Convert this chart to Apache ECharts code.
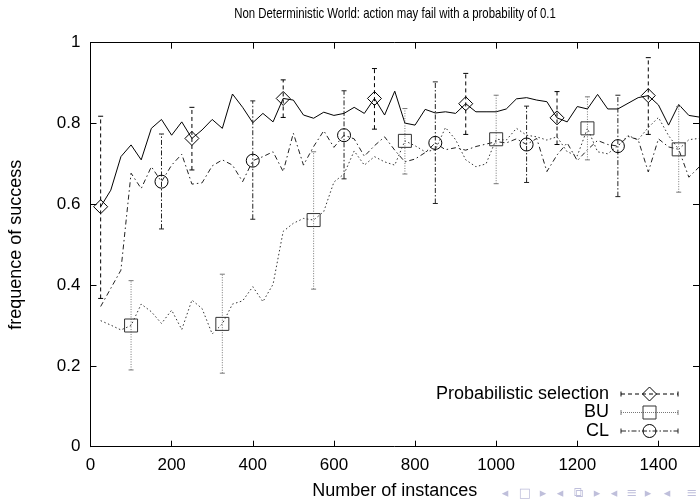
<!DOCTYPE html>
<html><head><meta charset="utf-8">
<script src="https://cdn.jsdelivr.net/npm/echarts@6/dist/echarts.min.js"></script>
<style>html,body{margin:0;padding:0;background:#fff}#c{width:700px;height:501px}</style>
</head><body><div id="c"></div>
<script>
const chartTitle = 'Non Deterministic World: action may fail with a probability of 0.1';
const xName = 'Number of instances';
const yName = 'frequence of success';
const seriesNames = ['Probabilistic selection', 'BU', 'CL'];
const xTicks = [0, 200, 400, 600, 800, 1000, 1200, 1400];
const yTicks = [0, 0.2, 0.4, 0.6, 0.8, 1];

const instances = [25,50,75,100,125,150,175,200,225,250,275,300,325,350,375,400,425,450,475,500,
  525,550,575,600,625,650,675,700,725,750,775,800,825,850,875,900,925,950,975,1000,
  1025,1050,1075,1100,1125,1150,1175,1200,1225,1250,1275,1300,1325,1350,1375,1400,1425,1450,1475,1500];

const probValues = [0.594,0.635,0.718,0.747,0.710,0.788,0.810,0.771,0.804,0.763,
  0.784,0.810,0.788,0.873,0.840,0.802,0.825,0.804,0.862,0.858,
  0.821,0.813,0.828,0.820,0.825,0.840,0.825,0.862,0.821,0.880,
  0.801,0.796,0.835,0.826,0.829,0.825,0.849,0.829,0.829,0.829,
  0.836,0.861,0.864,0.858,0.854,0.814,0.804,0.842,0.836,0.872,
  0.836,0.836,0.850,0.864,0.869,0.846,0.796,0.847,0.820,0.816];

const buValues = [0.312,0.301,0.289,0.300,0.353,0.334,0.305,0.338,0.290,0.363,
  0.342,0.279,0.304,0.353,0.361,0.396,0.359,0.402,0.533,0.553,
  0.565,0.561,0.582,0.655,0.675,0.732,0.697,0.718,0.705,0.697,
  0.757,0.745,0.730,0.735,0.790,0.760,0.710,0.693,0.700,0.761,
  0.759,0.788,0.771,0.767,0.759,0.767,0.730,0.720,0.788,0.730,
  0.725,0.745,0.770,0.760,0.790,0.815,0.770,0.736,0.760,0.763];

const clValues = [0.347,0.392,0.437,0.677,0.639,0.693,0.656,0.697,0.724,0.650,
  0.653,0.695,0.710,0.697,0.656,0.708,0.718,0.730,0.681,0.776,
  0.697,0.743,0.782,0.741,0.771,0.762,0.719,0.745,0.767,0.734,
  0.705,0.712,0.728,0.752,0.735,0.740,0.734,0.743,0.749,0.755,
  0.752,0.762,0.748,0.763,0.681,0.722,0.752,0.708,0.735,0.758,
  0.748,0.744,0.768,0.760,0.680,0.762,0.742,0.736,0.667,0.692];

const probErrX = [25, 250, 475, 700, 925, 1150, 1375];
const probErrLow = [0.367, 0.685, 0.815, 0.786, 0.773, 0.748, 0.773];
const probErrHigh = [0.818, 0.840, 0.908, 0.936, 0.924, 0.879, 0.963];

const buErrX = [100, 325, 550, 775, 1000, 1225, 1450];
const buErrLow = [0.190, 0.182, 0.390, 0.675, 0.651, 0.710, 0.630];
const buErrHigh = [0.411, 0.427, 0.730, 0.837, 0.870, 0.866, 0.842];

const clErrX = [175, 400, 625, 850, 1075, 1300];
const clErrLow = [0.539, 0.563, 0.663, 0.602, 0.654, 0.619];
const clErrHigh = [0.774, 0.856, 0.881, 0.903, 0.843, 0.870];

const FONT = '"Liberation Sans", Arial, Helvetica, sans-serif';

const styles = [
  {line: {color: '#000', type: 'solid'}, barColor: '#000', barDash: [4, 3], marker: 'diamond', markerColor: '#000', legendDash: [4, 3]},
  {line: {color: '#333', type: [1.5, 2.5]}, barColor: '#777', barDash: [1, 1.5], marker: 'rect', markerColor: '#333', legendDash: [1, 1]},
  {line: {color: '#222', type: [5, 3, 1.5, 3]}, barColor: '#222', barDash: [5, 2, 1.5, 2], marker: 'circle', markerColor: '#000', legendDash: [5, 2, 1.5, 2]}
];

function markerEl(kind, x, y, color) {
  const st = {stroke: color, lineWidth: 1, fill: 'none'};
  if (kind === 'diamond') {
    return {type: 'polygon', shape: {points: [[x, y - 7], [x + 7, y], [x, y + 7], [x - 7, y]]}, style: st};
  }
  if (kind === 'rect') {
    return {type: 'rect', shape: {x: x - 6.5, y: y - 6.5, width: 13, height: 13}, style: st};
  }
  return {type: 'circle', shape: {cx: x, cy: y, r: 6.5}, style: st};
}

function lineSeries(name, values, st) {
  return {
    type: 'line', name: name + ' line', data: instances.map((x, i) => [x, values[i]]),
    showSymbol: false, symbol: 'none', silent: true, animation: false,
    lineStyle: {color: st.line.color, width: 1, type: st.line.type}, z: 3
  };
}

function errSeries(name, xs, lows, highs, values, st) {
  const data = xs.map((x, i) => [x, values[instances.indexOf(x)], lows[i], highs[i]]);
  return {
    type: 'custom', name: name, data: data, animation: false, silent: true, z: 5,
    encode: {x: 0, y: [1, 2, 3]},
    renderItem: function (params, api) {
      const x = api.value(0), m = api.value(1), lo = api.value(2), hi = api.value(3);
      const pm = api.coord([x, m]), pl = api.coord([x, lo]), ph = api.coord([x, hi]);
      const cap = 2.5;
      return {
        type: 'group', children: [
          {type: 'line', shape: {x1: pl[0], y1: pl[1], x2: ph[0], y2: ph[1]}, style: {stroke: st.barColor, lineWidth: 1, lineDash: st.barDash}},
          {type: 'line', shape: {x1: pl[0] - cap, y1: pl[1], x2: pl[0] + cap, y2: pl[1]}, style: {stroke: st.barColor, lineWidth: 1}},
          {type: 'line', shape: {x1: ph[0] - cap, y1: ph[1], x2: ph[0] + cap, y2: ph[1]}, style: {stroke: st.barColor, lineWidth: 1}},
          markerEl(st.marker, pm[0], pm[1], st.markerColor)
        ]
      };
    }
  };
}

// legend (decoration drawn with graphic elements)
const legendRowsY = [394, 412.5, 431];
const legendGraphics = [];
seriesNames.forEach(function (nm, i) {
  const y = legendRowsY[i], st = styles[i];
  legendGraphics.push({type: 'text', x: 609, y: y, style: {text: nm, font: '18px ' + FONT, fill: '#000', textAlign: 'right', textVerticalAlign: 'middle'}});
  legendGraphics.push({type: 'line', shape: {x1: 621, y1: y, x2: 678, y2: y}, style: {stroke: st.barColor, lineWidth: 1, lineDash: st.legendDash}});
  legendGraphics.push({type: 'line', shape: {x1: 621, y1: y - 2.5, x2: 621, y2: y + 2.5}, style: {stroke: st.barColor, lineWidth: 1}});
  legendGraphics.push({type: 'line', shape: {x1: 678, y1: y - 2.5, x2: 678, y2: y + 2.5}, style: {stroke: st.barColor, lineWidth: 1}});
  legendGraphics.push(markerEl(st.marker, 649.5, y, st.markerColor));
});

// beamer navigation symbols (decoration)
const navGlyphs = ['\u25C2', '\u25A1', '\u25B8', '\u25C2', '\u29C9', '\u25B8', '\u25C2', '\u2261', '\u25B8', '\u25C2', '\u2261'];
const navX = [505, 525, 543, 560, 578, 597, 614, 632, 648, 667, 692];
const navGraphics = navGlyphs.map(function (g, i) {
  return {type: 'text', x: navX[i], y: 494, style: {text: g, font: '13px "DejaVu Sans"', fill: '#bfbfdb', textAlign: 'center', textVerticalAlign: 'middle'}};
});

const axisCommon = {
  axisLine: {show: true, onZero: false, lineStyle: {color: '#000', width: 1}},
  axisTick: {show: true, inside: true, length: 6, lineStyle: {color: '#000'}},
  splitLine: {show: false}
};

const chart = echarts.init(document.getElementById('c'), null, {renderer: 'canvas'});
chart.setOption({
  animation: false,
  backgroundColor: '#fff',
  textStyle: {fontFamily: FONT},
  grid: {left: 90.5, right: 1, top: 42.7, bottom: 54.3, containLabel: false, outerBoundsMode: 'none'},
  xAxis: [
    Object.assign({}, axisCommon, {
      type: 'value', position: 'bottom', min: 0, max: 1500, interval: 200,
      axisLabel: {show: true, color: '#000', fontSize: 17, fontFamily: FONT, margin: 10, showMaxLabel: false,
        formatter: function (v) { return xTicks.indexOf(v) >= 0 ? String(v) : ''; }},
      name: xName, nameLocation: 'middle', nameGap: 35,
      nameTextStyle: {color: '#000', fontSize: 18, fontFamily: FONT}
    }),
    Object.assign({}, axisCommon, {
      type: 'value', position: 'top', min: 0, max: 1500, interval: 200,
      axisLabel: {show: false}
    })
  ],
  yAxis: [
    Object.assign({}, axisCommon, {
      type: 'value', position: 'left', min: 0, max: 1, interval: 0.2,
      axisLabel: {show: true, color: '#000', fontSize: 17, fontFamily: FONT, margin: 10,
        formatter: function (v) { return yTicks.indexOf(+v.toFixed(1)) >= 0 ? String(+v.toFixed(1)) : ''; }},
      name: yName, nameLocation: 'middle', nameGap: 65, nameRotate: 90,
      nameTextStyle: {color: '#000', fontSize: 18, fontFamily: FONT}
    }),
    Object.assign({}, axisCommon, {
      type: 'value', position: 'right', min: 0, max: 1, interval: 0.2,
      axisLabel: {show: false}
    })
  ],
  graphic: [
    {type: 'text', x: 395, y: 14, scaleX: 0.76, style: {text: chartTitle, font: '15px ' + FONT, fill: '#000', textAlign: 'center', textVerticalAlign: 'middle'}}
  ].concat(legendGraphics, navGraphics),
  series: [
    lineSeries(seriesNames[0], probValues, styles[0]),
    lineSeries(seriesNames[1], buValues, styles[1]),
    lineSeries(seriesNames[2], clValues, styles[2]),
    errSeries(seriesNames[0], probErrX, probErrLow, probErrHigh, probValues, styles[0]),
    errSeries(seriesNames[1], buErrX, buErrLow, buErrHigh, buValues, styles[1]),
    errSeries(seriesNames[2], clErrX, clErrLow, clErrHigh, clValues, styles[2])
  ]
});
</script>
</body></html>
